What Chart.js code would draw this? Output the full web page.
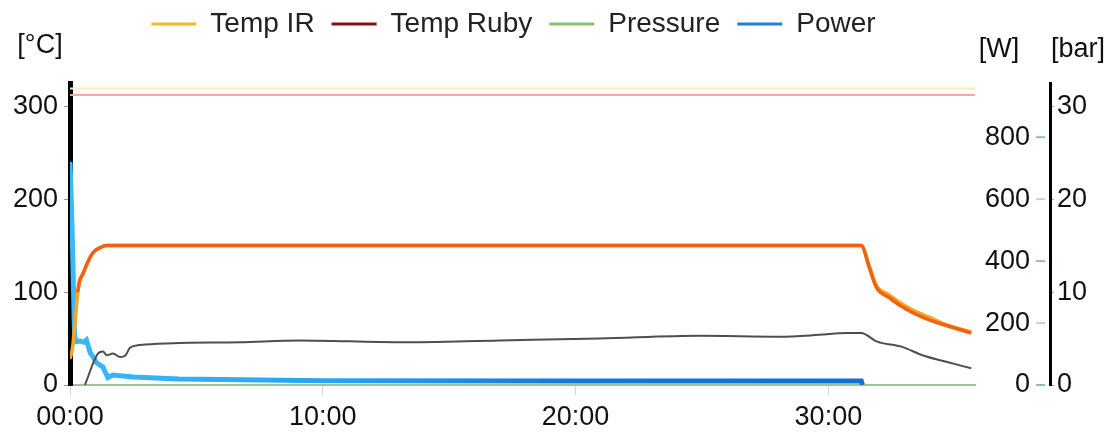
<!DOCTYPE html>
<html><head><meta charset="utf-8">
<script src="https://cdn.jsdelivr.net/npm/chart.js@4.4.1/dist/chart.umd.min.js"></script>
<style>html,body{margin:0;padding:0;background:#fff;overflow:hidden}#wrap{width:1117px;height:432px;position:relative}</style>
</head><body><div id="wrap"><canvas id="c"></canvas></div>
<script>
// ---- data (time in minutes) ----
const seriesNames = ['Temp IR', 'Temp Ruby', 'Pressure', 'Power'];
const xTickMinutes = [0, 10, 20, 30];
const tempTicks = [0, 100, 200, 300];
const powerTicks = [0, 200, 400, 600, 800];
const pressureTicks = [0, 10, 20, 30];

const irTime = [0, 0.1, 0.18, 0.25, 0.3, 0.38, 0.5, 0.7, 0.9, 1.2, 1.45, 31.3, 31.62, 31.9, 32.41, 32.81, 33.32, 33.99, 34.66, 35.65];
const irTemp = [28, 40, 62, 82, 98, 112, 119, 132, 142, 148, 150, 150, 128, 107, 97, 89, 81, 73, 65, 57];

const rubyTime = [0.3, 0.38, 0.5, 0.7, 0.9, 1.2, 1.45, 31.3, 31.62, 31.9, 32.41, 32.81, 33.32, 33.99, 34.66, 35.65];
const rubyTemp = [100, 112, 119, 132, 142, 148, 150, 150, 126, 105, 94, 86, 78, 70, 64, 56];

const pressureTime = [0.59, 1.11, 1.3, 1.46, 1.7, 1.98, 2.2, 2.37, 2.77, 4.07, 6.72, 9.09, 13.04, 17.0, 20.95, 24.9, 28.06, 29.64, 30.71, 31.3, 31.9, 32.92, 33.72, 34.66, 35.65];
const pressureBar = [0, 3.4, 3.6, 3.2, 3.4, 3.0, 3.2, 4.0, 4.3, 4.5, 4.6, 4.8, 4.6, 4.8, 5.0, 5.3, 5.2, 5.4, 5.6, 5.6, 4.7, 4.1, 3.2, 2.5, 1.8];

const powerTime = [0, 0.05, 0.1, 0.18, 0.25, 0.4, 0.55, 0.65, 0.8, 0.92, 1.05, 1.3, 1.5, 1.7, 2.5, 4.3, 10, 20, 31.3, 31.35];
const powerW = [720, 600, 450, 160, 140, 142, 138, 145, 104, 90, 72, 58, 24, 32, 26, 19, 14, 13, 13, 0];

const limitTime = [0, 35.8];
const irLimit = [319, 319];
const rubyLimit = [312, 312];

// ---- helpers ----
const pts = (xs, ys) => xs.map((x, i) => ({x: x, y: ys[i]}));
const FONT = "'Liberation Sans', Arial, sans-serif";
Chart.defaults.font.family = FONT;
Chart.defaults.color = '#111';

const legendColors = {'Temp IR': '#f6b928', 'Temp Ruby': '#8a0f0f', 'Pressure': '#8cbf6a', 'Power': '#1f7fd8'};

function powerGradient(ctx) {
  const chart = ctx.chart; const area = chart.chartArea;
  if (!area) return '#1a80e0';
  const g = chart.ctx.createLinearGradient(area.left, 0, area.right, 0);
  g.addColorStop(0, '#3ab8f7');
  g.addColorStop(0.3, '#2aa2f0');
  g.addColorStop(0.55, '#1478d8');
  g.addColorStop(1, '#0f6cd0');
  return g;
}
const setTicks = arr => s => { s.ticks = arr.map(v => ({value: v})); };

const extraPlugin = {
  id: 'extras',
  beforeLayout(chart) {
    const lg = chart.legend;
    if (lg && !lg._patched) {
      const f = lg.fit;
      lg.fit = function () { f.call(this); this.height = 83; };
      const d = lg.draw;
      lg.draw = function () {
        const c = this.ctx; c.save(); c.translate(-9, -7); d.call(this); c.restore();
      };
      lg._patched = true;
    }
  },
  afterDraw(chart) {
    const c = chart.ctx;
    c.save();
    c.font = '27px ' + FONT;
    c.fillStyle = '#111';
    c.textBaseline = 'middle';
    c.textAlign = 'center';
    c.fillText('[°C]', 40, 46);
    c.fillText('[W]', 999, 50);
    c.fillText('[bar]', 1078, 50);
    // small tick dashes for the W axis
    const sW = chart.scales.yW;
    sW.ticks.forEach((t, i) => {
      const y = sW.getPixelForValue(t.value);
      c.strokeStyle = i % 2 ? '#c8d0d8' : '#8cc88c';
      c.lineWidth = 2;
      c.beginPath(); c.moveTo(1036, y); c.lineTo(1045, y); c.stroke();
    });
    c.restore();
  }
};

new Chart(document.getElementById('c'), {
  type: 'line',
  data: {
    datasets: [
      {label: 'Temp IR', data: pts(irTime, irTemp), yAxisID: 'y', borderColor: '#f6a623', borderWidth: 3.5, order: 1, cubicInterpolationMode: 'monotone'},
      {label: 'Temp Ruby', data: pts(rubyTime, rubyTemp), yAxisID: 'y', borderColor: '#ef6212', borderWidth: 3.5, order: 0, cubicInterpolationMode: 'monotone'},
      {label: 'Pressure', data: pts(pressureTime, pressureBar), yAxisID: 'yBar', borderColor: '#4e4e4e', borderWidth: 2, order: 2, cubicInterpolationMode: 'monotone'},
      {label: 'Power', data: pts(powerTime, powerW), yAxisID: 'yW', borderColor: powerGradient, borderWidth: 5, order: 3},
      {label: 'IR limit', data: pts(limitTime, irLimit), yAxisID: 'y', borderColor: '#f6f0b8', borderWidth: 2, order: 4},
      {label: 'Ruby limit', data: pts(limitTime, rubyLimit), yAxisID: 'y', borderColor: '#f6a8a2', borderWidth: 2, order: 4}
    ]
  },
  options: {
    responsive: true, maintainAspectRatio: false, animation: false, devicePixelRatio: 1,
    layout: {padding: 0},
    elements: {point: {radius: 0}, line: {tension: 0}},
    plugins: {
      tooltip: {enabled: false},
      legend: {
        position: 'top', fullSize: false,
        labels: {
          font: {size: 28}, color: '#222', boxWidth: 45, boxHeight: 3, padding: 17,
          generateLabels(chart) {
            return chart.data.datasets.map((d, i) => ({
              text: d.label, fillStyle: legendColors[d.label], strokeStyle: legendColors[d.label],
              lineWidth: 0, hidden: false, datasetIndex: i, fontColor: '#222'
            })).filter(it => seriesNames.includes(it.text));
          }
        }
      }
    },
    scales: {
      x: {
        type: 'linear', min: 0, max: 35.8,
        afterBuildTicks: setTicks(xTickMinutes),
        ticks: {font: {size: 27}, color: '#111', padding: 6, maxRotation: 0, autoSkip: false,
          callback: v => String(v).padStart(2, '0') + ':00'},
        grid: {drawOnChartArea: false, tickLength: 10, color: '#d6d6d6'},
        border: {color: '#9cc49a', width: 2},
        afterFit: s => { s.height = 47; }
      },
      y: {
        position: 'left', min: 0, max: 325,
        afterBuildTicks: setTicks(tempTicks),
        ticks: {font: {size: 27}, color: '#111', padding: 6},
        grid: {drawOnChartArea: false, tickLength: 6, color: '#999'},
        border: {color: '#000', width: 5},
        afterFit: s => { s.width = 70; }
      },
      yW: {
        position: 'right', weight: 0, min: 0, max: 975,
        afterBuildTicks: setTicks(powerTicks),
        ticks: {crossAlign: 'far', padding: 10, font: {size: 27}, color: '#111'},
        grid: {display: false, drawTicks: false},
        border: {display: false},
        afterFit: s => { s.width = 55; }
      },
      ySpacer: {
        position: 'right', weight: 1, min: 0, max: 1,
        ticks: {display: false},
        grid: {display: false, drawTicks: false},
        border: {display: false},
        afterFit: s => { s.width = 20; }
      },
      yBar: {
        position: 'right', weight: 2, min: 0, max: 32.5,
        afterBuildTicks: setTicks(pressureTicks),
        ticks: {padding: 3, font: {size: 27}, color: '#111'},
        grid: {drawOnChartArea: false, tickLength: 4, color: '#aaa'},
        border: {color: '#000', width: 3},
        afterFit: s => { s.width = 67; }
      }
    }
  },
  plugins: [extraPlugin]
});
</script></body></html>
